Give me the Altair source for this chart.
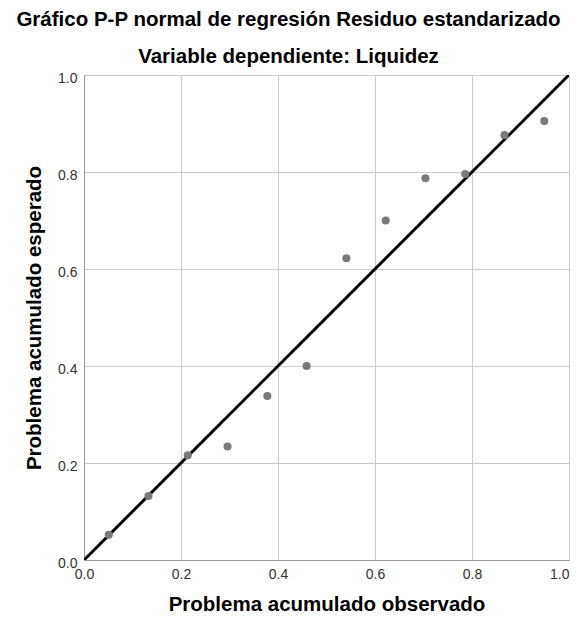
import altair as alt
import pandas as pd

observed = [0.051, 0.133, 0.214, 0.296, 0.378, 0.459, 0.541, 0.622, 0.704, 0.786, 0.867, 0.949]
expected = [0.052, 0.132, 0.216, 0.234, 0.338, 0.400, 0.622, 0.700, 0.787, 0.796, 0.876, 0.905]
diag_x = [0.0, 1.0]
diag_y = [0.0, 1.0]
tick_values = [0.0, 0.2, 0.4, 0.6, 0.8, 1.0]

pts = pd.DataFrame({"obs": observed, "exp": expected})
diag = pd.DataFrame({"obs": diag_x, "exp": diag_y})

FONT = "Liberation Sans"

xscale = alt.Scale(domain=[0, 1], nice=False, zero=False)
yscale = alt.Scale(domain=[0, 1], nice=False, zero=False)

common = dict(values=tick_values, format=".1f", ticks=False,
              labelFontSize=14, labelColor="#333333", titleFontSize=20.5, titleFontWeight="bold",
              titleColor="#000000", domainColor="#999999", gridColor="#cccccc", labelFont=FONT,
              titleFont=FONT, labelFlush=False)

xaxis = alt.Axis(title="Problema acumulado observado", labelPadding=7, titlePadding=13,
                 labelAlign={"condition": {"test": "datum.value == 1", "value": "right"},
                             "value": "center"},
                 **common)
yaxis = alt.Axis(title="Problema acumulado esperado", labelPadding=7, titlePadding=13,
                 labelOffset=3, **common)

points = alt.Chart(pts).mark_circle(size=65, color="#7a7a7a", opacity=1).encode(
    x=alt.X("obs:Q", scale=xscale, axis=xaxis),
    y=alt.Y("exp:Q", scale=yscale, axis=yaxis),
)

line = alt.Chart(diag).mark_line(color="#000000", strokeWidth=3, clip=True).encode(
    x=alt.X("obs:Q", scale=xscale),
    y=alt.Y("exp:Q", scale=yscale),
)

chart = alt.layer(line, points).properties(
    width=485,
    height=485,
    padding={"left": 76, "top": 67, "right": 3, "bottom": 55},
    autosize=alt.AutoSizeParams(type="none"),
    title=alt.TitleParams(
        text="Gráfico P-P normal de regresión Residuo estandarizado",
        subtitle="Variable dependiente: Liquidez",
        anchor="middle", frame="group", dx=-38,
        font=FONT, fontSize=20.5, fontWeight="bold", color="#000000",
        subtitleFont=FONT, subtitleFontSize=20.5, subtitleFontWeight="bold",
        subtitleColor="#000000",
        subtitlePadding=16, offset=4,
    ),
).configure_view(stroke="#cccccc", strokeWidth=1).configure(background="white")

chart.save("out.html", embed_options={"renderer": "svg", "actions": False})
